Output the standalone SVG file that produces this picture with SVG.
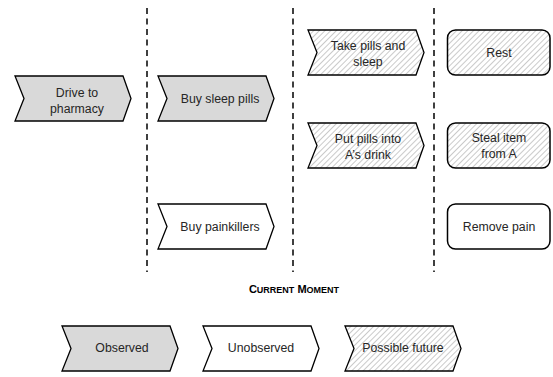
<svg xmlns="http://www.w3.org/2000/svg" width="553" height="377" viewBox="0 0 553 377">
<defs>
<pattern id="hatch" patternUnits="userSpaceOnUse" width="4" height="4" patternTransform="rotate(45)">
<rect width="4" height="4" fill="#ffffff"/>
<line x1="0" y1="0" x2="0" y2="4" stroke="#a6a6a6" stroke-width="1.2"/>
</pattern>
<path id="chev" d="M0,0 H108 L116,22.5 L108,45 H0 L9,22.5 Z"/>
</defs>
<style>
.obs{fill:#d9d9d9;stroke:#000;stroke-width:1.3;stroke-linejoin:miter}
.unobs{fill:#ffffff;stroke:#000;stroke-width:1.3}
.fut{fill:url(#hatch);stroke:#000;stroke-width:1.3}
.box{stroke:#000;stroke-width:1.5}
.t{font-family:"Liberation Sans",Arial,sans-serif;font-size:12.3px;fill:#262626;text-anchor:middle}
.div{stroke:#000;stroke-width:1.5;stroke-dasharray:6 4.5}
.cm{font-family:"Liberation Sans",Arial,sans-serif;font-weight:bold;font-size:11px;fill:#000;text-anchor:middle}
</style>
<g id="dividers">
<line class="div" x1="147" y1="8" x2="147" y2="272"/>
<line class="div" x1="293" y1="8" x2="293" y2="272"/>
<line class="div" x1="434" y1="8" x2="434" y2="272"/>
</g>
<g id="connectors"></g>
<g id="drive">
<use href="#chev" class="obs" x="15" y="76"/>
<text class="t" x="77" y="97">Drive to</text>
<text class="t" x="77" y="113">pharmacy</text>
</g>
<g id="buysleep">
<use href="#chev" class="obs" x="158" y="76"/>
<text class="t" x="220" y="103">Buy sleep pills</text>
</g>
<g id="takepills">
<use href="#chev" class="fut" x="308" y="30"/>
<text class="t" x="368" y="50">Take pills and</text>
<text class="t" x="368" y="66">sleep</text>
</g>
<g id="putpills">
<use href="#chev" class="fut" x="308" y="123"/>
<text class="t" x="368" y="143">Put pills into</text>
<text class="t" x="368" y="159">A’s drink</text>
</g>
<g id="buypain">
<use href="#chev" class="unobs" x="158" y="204"/>
<text class="t" x="220" y="231">Buy painkillers</text>
</g>
<g id="rest">
<rect class="box" x="447.5" y="30" width="102.5" height="45" rx="8" fill="url(#hatch)"/>
<text class="t" x="499" y="57">Rest</text>
</g>
<g id="steal">
<rect class="box" x="447.5" y="123" width="102.5" height="45" rx="8" fill="url(#hatch)"/>
<text class="t" x="499" y="142">Steal item</text>
<text class="t" x="499" y="158">from A</text>
</g>
<g id="removepain">
<rect class="box" x="447.5" y="204" width="102.5" height="45" rx="8" fill="#ffffff"/>
<text class="t" x="499" y="231">Remove pain</text>
</g>
<g id="current">
<text class="cm" x="294" y="293">C<tspan font-size="9">URRENT</tspan> M<tspan font-size="9">OMENT</tspan></text>
</g>
<g id="legend-observed">
<use href="#chev" class="obs" x="62" y="326" transform="translate(0,0)"/>
<text class="t" x="122" y="352">Observed</text>
</g>
<g id="legend-unobserved">
<use href="#chev" class="unobs" x="203" y="326"/>
<text class="t" x="261" y="352">Unobserved</text>
</g>
<g id="legend-future">
<use href="#chev" class="fut" x="345" y="326"/>
<text class="t" x="403" y="352">Possible future</text>
</g>
</svg>
